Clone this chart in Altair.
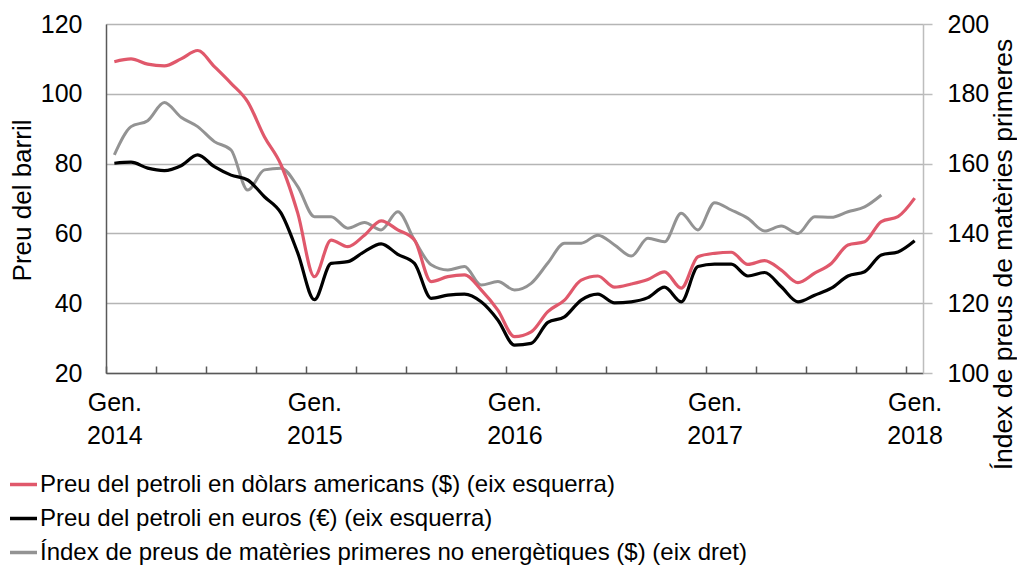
import altair as alt
import pandas as pd

# Monthly data, Jan 2014 .. Jan 2018 (index 0..48)
red_usd = [109.2, 110.0, 108.5, 108.0, 110.0, 112.4, 107.8, 103.0, 97.7, 87.7, 79.6, 65.8,
           47.6, 58.1, 56.2, 59.5, 63.6, 61.0, 58.1, 46.2, 47.6, 48.1, 43.8, 38.0,
           30.4, 31.8, 37.6, 40.9, 46.6, 47.8, 44.6, 45.5, 46.8, 49.0, 44.3, 53.3,
           54.3, 54.6, 51.1, 52.2, 49.5, 45.9, 48.6, 51.4, 56.7, 57.6, 63.4, 64.8,
           70.1]
black_eur = [80.1, 80.4, 78.7, 78.0, 79.4, 82.5, 79.1, 76.7, 75.3, 70.5, 65.8, 54.4,
             41.0, 51.4, 51.9, 54.8, 57.0, 54.0, 51.4, 41.4, 42.3, 42.6, 40.4, 35.2,
             28.0, 28.5, 34.5, 36.1, 40.9, 42.6, 40.1, 40.4, 41.6, 44.6, 40.4, 50.5,
             51.2, 51.2, 47.8, 48.8, 44.7, 40.4, 42.3, 44.3, 47.8, 49.0, 53.8, 54.7,
             57.9]
gray_index = [162.5, 170.6, 172.3, 177.5, 173.3, 170.6, 166.3, 163.9, 152.4, 158.2, 158.7, 153.4,
              144.8, 144.8, 141.5, 143.1, 141.0, 146.2, 138.1, 131.0, 129.5, 130.5, 125.2, 126.2,
              123.8, 125.7, 131.5, 137.2, 137.2, 139.5, 136.7, 133.5, 138.6, 137.6, 145.8, 141.0,
              148.8, 146.7, 144.3, 140.7, 142.1, 140.0, 144.8, 144.6, 146.2, 147.6, 151.0]

series_names = [
    "Preu del petroli en dòlars americans ($) (eix esquerra)",
    "Preu del petroli en euros (€) (eix esquerra)",
    "Índex de preus de matèries primeres no energètiques ($) (eix dret)",
]
series_colors = ["#E0586B", "#000000", "#939393"]
left_ticks = [20, 40, 60, 80, 100, 120]
right_ticks = [100, 120, 140, 160, 180, 200]
x_ticks = list(range(0, 49, 3))
n_months = 49

rows_left = []
for i, v in enumerate(red_usd):
    rows_left.append({"m": i + 0.5, "v": v, "s": series_names[0], "o": 2})
for i, v in enumerate(black_eur):
    rows_left.append({"m": i + 0.5, "v": v, "s": series_names[1], "o": 1})
df_left = pd.DataFrame(rows_left)
df_right = pd.DataFrame({"m": [i + 0.5 for i in range(len(gray_index))],
                         "v": gray_index, "s": series_names[2]})

FONT = "Liberation Sans"
W, H = 817, 349
TICK_FS = 25

color = alt.Color(
    "s:N",
    scale=alt.Scale(domain=series_names, range=series_colors),
    legend=alt.Legend(
        orient="none", legendX=-98, legendY=445, direction="vertical",
        title=None, symbolType="stroke", symbolSize=729, symbolStrokeWidth=3.5,
        labelFont=FONT, labelFontSize=24, labelColor="#000000", labelLimit=1000,
        labelOffset=1, rowPadding=6,
    ),
)

x_bottom = alt.X(
    "m:Q",
    scale=alt.Scale(domain=[0, n_months], nice=False, zero=False),
    axis=alt.Axis(
        orient="bottom", values=x_ticks, ticks=False, grid=False,
        domainColor="#595959", domainWidth=1.5,
        labelExpr="datum.value % 12 == 0 ? ['Gen.', toString(2014 + datum.value / 12)] : ''",
        labelOffset=8.3, labelFont=FONT, labelFontSize=TICK_FS, labelColor="#000000",
        labelLineHeight=33, labelPadding=17, labelBaseline="top", labelAlign="center",
        title=None, labelOverlap=False,
    ),
)
x_top = alt.X(
    "m:Q",
    scale=alt.Scale(domain=[0, n_months], nice=False, zero=False),
    axis=alt.Axis(
        orient="top", offset=-H, values=x_ticks, labels=False, domain=False,
        ticks=True, tickSize=7, tickColor="#595959", tickWidth=1.5, grid=False, title=None,
    ),
)

right_layer = alt.Chart(df_right).mark_line(
    strokeWidth=3, interpolate="monotone"
).encode(
    x=x_top,
    y=alt.Y(
        "v:Q",
        scale=alt.Scale(domain=[100, 200], nice=False, zero=False),
        axis=alt.Axis(
            orient="right", values=right_ticks, grid=False,
            domainColor="#BDBDBD", domainWidth=1.5, tickColor="#BDBDBD", tickSize=9,
            tickWidth=1.5, labelFont=FONT, labelFontSize=TICK_FS, labelColor="#000000",
            labelPadding=15,
            title="Índex de preus de matèries primeres", titleFont=FONT,
            titleFontSize=26.5, titleFontWeight="normal", titleColor="#000000",
            titleAngle=270, titleX=80, titleY=230, titleAlign="center",
            titleBaseline="middle",
        ),
    ),
    color=color,
)

left_layer = alt.Chart(df_left).mark_line(
    strokeWidth=3.2, interpolate="monotone"
).encode(
    x=x_bottom,
    y=alt.Y(
        "v:Q",
        scale=alt.Scale(domain=[20, 120], nice=False, zero=False),
        axis=alt.Axis(
            orient="left", values=left_ticks, grid=True, gridColor="#B5B5B5",
            gridWidth=1.5, ticks=False, domainColor="#595959", domainWidth=1.5,
            labelFont=FONT, labelFontSize=TICK_FS, labelColor="#000000", labelPadding=24,
            title="Preu del barril", titleFont=FONT, titleFontSize=26,
            titleFontWeight="normal", titleColor="#000000",
            titleAngle=270, titleX=-84, titleY=176, titleAlign="center",
            titleBaseline="middle",
        ),
    ),
    color=color,
    order=alt.Order("o:Q"),
    detail="s:N",
)

chart = alt.layer(right_layer, left_layer).resolve_scale(
    y="independent"
).resolve_axis(
    x="independent", y="independent"
).properties(
    width=W, height=H,
    autosize=alt.AutoSizeParams(type="none"),
    padding={"left": 98, "top": 16, "right": 94, "bottom": 192},
).configure_view(stroke=None).configure(font=FONT)

chart.save("out.html", embed_options={"renderer": "svg", "actions": False})
